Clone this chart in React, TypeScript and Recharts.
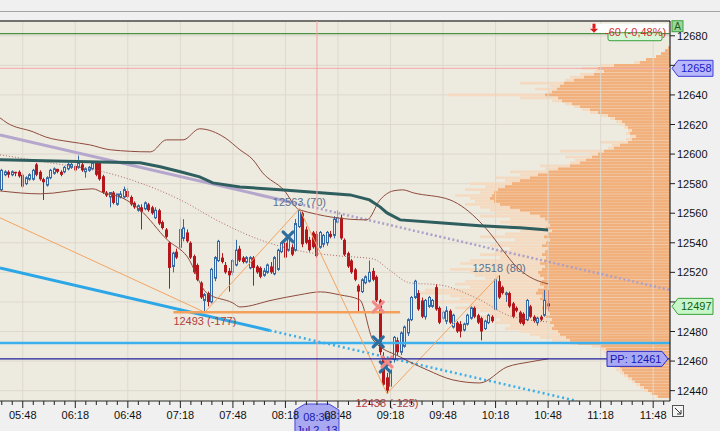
import React from 'react';
import {
  ComposedChart, XAxis, YAxis, CartesianGrid, Bar, Line, Scatter,
  ReferenceLine, ReferenceArea, ReferenceDot,
} from 'recharts';

const FONT = '"Liberation Sans", Arial, sans-serif';

const hm = (s: string) => { const [h, m] = s.split(':'); return Number(h) * 60 + Number(m); };
const fmt = (t: number) => `${String(Math.floor(t / 60)).padStart(2, '0')}:${String(t % 60).padStart(2, '0')}`;

const T_MIN = 335;
const T_MAX = 717.6;
const P_MIN = 12433;
const P_MAX = 12690;

const priceTicks = [12440, 12460, 12480, 12500, 12520, 12540, 12560, 12580, 12600, 12620, 12640, 12660, 12680];
// axis labels hidden under the price tags
const coveredTicks = [12660, 12500];
const majorTimes = ['05:48', '06:18', '06:48', '07:18', '07:48', '08:18', '08:48', '09:18', '09:48', '10:18', '10:48', '11:18', '11:48'];
const timeTicks: number[] = [];
for (let t = 336; t <= 714; t += 6) timeTicks.push(t);

// 2-minute candles, open/high/low/close
const candleOpen = '05:36';
const candleMinutes = 2;
const ohlc: number[][] = [
  [12576, 12590, 12575, 12589], [12586, 12589, 12585, 12588], [12588, 12589, 12584, 12586], [12586, 12589, 12585, 12588],
  [12588, 12588, 12585, 12587], [12588, 12589, 12584, 12585], [12586, 12587, 12577, 12578], [12580, 12585, 12579, 12584],
  [12583, 12587, 12582, 12586], [12583, 12590, 12582, 12589], [12593, 12594, 12585, 12586], [12588, 12589, 12582, 12583],
  [12583, 12584, 12569, 12581], [12579, 12585, 12578, 12584], [12584, 12590, 12583, 12589], [12587, 12591, 12586, 12590],
  [12590, 12590, 12587, 12588], [12588, 12589, 12585, 12586], [12588, 12592, 12587, 12591], [12590, 12594, 12589, 12593],
  [12591, 12594, 12590, 12593], [12592, 12593, 12588, 12589], [12591, 12599, 12590, 12594], [12593, 12594, 12588, 12589],
  [12588, 12591, 12584, 12590], [12589, 12592, 12588, 12591], [12590, 12595, 12589, 12594], [12594, 12595, 12585, 12586],
  [12594, 12595, 12582, 12583], [12585, 12586, 12573, 12574], [12574, 12575, 12571, 12572], [12571, 12574, 12564, 12574],
  [12574, 12575, 12566, 12567], [12566, 12573, 12565, 12573], [12571, 12575, 12570, 12573], [12571, 12578, 12570, 12576],
  [12575, 12577, 12570, 12571], [12571, 12572, 12565, 12566], [12567, 12568, 12563, 12564], [12562, 12566, 12561, 12565],
  [12564, 12566, 12549, 12561], [12563, 12568, 12562, 12567], [12566, 12567, 12561, 12562], [12564, 12565, 12559, 12560],
  [12557, 12564, 12556, 12562], [12562, 12563, 12552, 12553], [12554, 12555, 12549, 12550], [12549, 12550, 12543, 12544],
  [12540, 12541, 12509, 12523], [12524, 12534, 12520, 12533], [12534, 12536, 12529, 12530], [12537, 12557, 12535, 12549],
  [12543, 12556, 12541, 12550], [12547, 12549, 12540, 12541], [12540, 12541, 12529, 12530], [12531, 12532, 12519, 12520],
  [12525, 12526, 12514, 12515], [12513, 12514, 12502, 12503], [12501, 12506, 12493, 12505], [12506, 12507, 12497, 12500],
  [12500, 12523, 12499, 12522], [12516, 12531, 12514, 12530], [12528, 12542, 12527, 12541], [12530, 12533, 12526, 12527],
  [12525, 12527, 12519, 12520], [12521, 12523, 12507, 12518], [12520, 12529, 12518, 12528], [12525, 12542, 12524, 12535],
  [12536, 12538, 12527, 12528], [12530, 12531, 12526, 12527], [12527, 12531, 12526, 12530], [12523, 12531, 12522, 12530],
  [12530, 12531, 12511, 12523], [12524, 12525, 12519, 12520], [12523, 12524, 12516, 12517], [12518, 12523, 12517, 12521],
  [12520, 12526, 12519, 12525], [12524, 12527, 12519, 12520], [12519, 12531, 12518, 12530], [12522, 12536, 12521, 12535],
  [12534, 12541, 12533, 12540], [12540, 12542, 12529, 12530], [12535, 12545, 12534, 12544], [12537, 12539, 12531, 12532],
  [12535, 12556, 12534, 12553], [12551, 12563, 12550, 12562], [12560, 12561, 12537, 12539], [12549, 12551, 12539, 12540],
  [12542, 12544, 12534, 12535], [12547, 12548, 12536, 12537], [12546, 12548, 12530, 12531], [12537, 12548, 12536, 12547],
  [12539, 12546, 12537, 12545], [12540, 12548, 12538, 12547], [12546, 12548, 12543, 12544], [12545, 12558, 12543, 12556],
  [12554, 12562, 12553, 12557], [12557, 12559, 12542, 12543], [12542, 12543, 12531, 12532], [12533, 12534, 12523, 12524],
  [12528, 12529, 12519, 12520], [12522, 12523, 12514, 12515], [12511, 12512, 12493, 12507], [12507, 12516, 12506, 12515],
  [12513, 12518, 12512, 12517], [12514, 12528, 12513, 12520], [12521, 12523, 12514, 12515], [12517, 12518, 12500, 12501],
  [12501, 12502, 12464, 12466], [12463, 12466, 12443, 12444], [12449, 12452, 12438, 12440], [12443, 12455, 12440, 12454],
  [12461, 12477, 12459, 12476], [12474, 12476, 12464, 12466], [12466, 12480, 12464, 12479], [12470, 12484, 12469, 12483],
  [12479, 12489, 12477, 12488], [12488, 12504, 12487, 12503], [12503, 12515, 12502, 12514], [12506, 12508, 12494, 12495],
  [12501, 12503, 12489, 12490], [12490, 12502, 12488, 12501], [12497, 12504, 12496, 12503], [12497, 12502, 12496, 12501],
  [12510, 12512, 12494, 12495], [12496, 12497, 12485, 12486], [12489, 12494, 12488, 12493], [12487, 12497, 12485, 12494],
  [12494, 12495, 12485, 12486], [12483, 12492, 12482, 12491], [12486, 12487, 12479, 12480], [12485, 12487, 12476, 12480],
  [12481, 12486, 12480, 12485], [12485, 12492, 12484, 12491], [12489, 12497, 12488, 12496], [12496, 12497, 12489, 12490],
  [12491, 12492, 12485, 12486], [12489, 12490, 12474, 12480], [12482, 12488, 12481, 12487], [12486, 12492, 12485, 12491],
  [12490, 12491, 12486, 12487], [12495, 12516, 12494, 12515], [12514, 12518, 12502, 12503], [12510, 12511, 12505, 12506],
  [12505, 12507, 12500, 12506], [12506, 12507, 12496, 12497], [12499, 12500, 12489, 12490], [12496, 12497, 12493, 12494],
  [12493, 12494, 12485, 12486], [12492, 12493, 12484, 12485], [12488, 12502, 12487, 12501], [12497, 12498, 12489, 12490],
  [12490, 12491, 12486, 12487], [12486, 12490, 12484, 12489], [12490, 12491, 12487, 12488], [12491, 12508, 12490, 12501],
  [12499, 12508, 12494, 12497],
];

const upperBand: [string, number][] = [
  ['05:35', 12624.5], ['05:39', 12621.1], ['05:54', 12615.0], ['06:01', 12611.6], ['06:15', 12608.3], ['06:26', 12606.3],
  ['06:38', 12602.9], ['07:01', 12601.5], ['07:10', 12609.6], ['07:19.5', 12609.6], ['07:29', 12617.1], ['07:43.5', 12611.0],
  ['07:52', 12602.9], ['07:59.5', 12596.1], ['08:05', 12587.3], ['08:17', 12575.8], ['08:26', 12562.3], ['09:04.5', 12555.5],
  ['09:12', 12569.0], ['09:19.5', 12575.1], ['09:25', 12575.8], ['09:31', 12573.8], ['09:52', 12569.0], ['10:09', 12554.2],
  ['10:16.5', 12544.0], ['10:22', 12535.2], ['10:30', 12523.7], ['10:37.5', 12516.9], ['10:48', 12512.2],
];
const middleBand: [string, number][] = [
  ['05:35', 12599.5], ['06:03.5', 12594.1], ['06:34', 12588.0], ['06:55', 12580.5], ['07:18', 12569.0], ['07:40.5', 12554.2],
  ['08:03.5', 12542.0], ['08:26', 12534.5], ['08:49', 12531.1], ['09:08', 12529.1], ['09:18', 12521.0], ['09:29', 12512.9],
  ['09:46', 12511.5], ['10:09', 12501.4], ['10:26', 12490.6], ['10:48', 12486.5],
];
const lowerBand: [string, number][] = [
  ['05:35', 12575.1], ['05:58', 12573.1], ['06:28', 12576.5], ['06:34', 12573.8], ['06:43.5', 12571.1], ['06:55', 12562.3],
  ['07:10.5', 12542.0], ['07:22', 12530.5], ['07:33', 12506.1], ['07:48', 12499.3], ['07:52', 12496.6], ['08:11', 12501.4],
  ['08:26', 12504.8], ['08:38', 12506.8], ['08:49', 12504.8], ['09:00.5', 12501.4], ['09:08', 12474.3], ['09:23.5', 12462.8],
  ['09:39', 12454.0], ['09:53.5', 12447.3], ['10:09', 12445.2], ['10:24.5', 12456.0], ['10:37.5', 12459.4], ['10:48', 12461.5],
];
const vwapLine: [string, number][] = [
  ['05:35', 12596.1], ['06:32', 12594.7], ['06:55', 12594.1], ['07:06.5', 12591.4], ['07:18', 12588.0], ['07:29', 12584.6],
  ['07:36.5', 12580.5], ['07:52', 12577.8], ['08:15', 12575.8], ['08:38', 12573.8], ['08:55', 12572.4], ['09:06', 12569.0],
  ['09:12', 12564.3], ['09:16', 12560.2], ['09:23.5', 12555.5], ['09:46', 12553.5], ['10:09', 12551.5], ['10:32', 12550.1],
  ['10:48', 12548.7],
];
const upperTrend: [string, number][] = [['05:35', 12613.0], ['08:20.7', 12567.6]];
const upperTrendExt: [string, number][] = [['08:20.7', 12567.6], ['11:57.6', 12508.1]];
const lowerTrend: [string, number][] = [['05:35', 12523.0], ['08:09', 12480.7]];
const lowerTrendExt: [string, number][] = [['08:09', 12480.7], ['11:04.6', 12433]];
const zigzag: [string, number][] = [['05:35', 12556.9], ['07:32', 12493], ['08:26', 12563], ['09:16', 12438], ['10:20', 12518]];
const swingLowLine: [string, number][] = [['07:14', 12493], ['09:23.5', 12493]];

const blueMarks: [string, number][] = [['08:19.5', 12544], ['09:11', 12473], ['09:15', 12456]];
const pinkMarks: [string, number][] = [['09:11', 12496.6], ['09:16', 12459.4]];

// volume profile, 2-point rows from 12672 down to 12436
const profileTop = 12672;
const profileStep = 2;
// a row of this volume would span the whole plot width
const profileFullWidthVol = 670;
const profileVol = [
  2, 5, 9, 14, 24, 30, 56, 72, 66, 76,
  86, 96, 106, 110, 113, 118, 125, 112, 108, 98,
  90, 80, 72, 62, 55, 48, 45, 42, 38, 40,
  34, 38, 42, 50, 56, 66, 72, 78, 84, 90,
  100, 112, 122, 132, 140, 150, 158, 165, 172, 176,
  178, 180, 176, 170, 160, 150, 140, 130, 125, 122,
  120, 124, 118, 122, 126, 120, 124, 128, 122, 125,
  128, 124, 126, 130, 125, 128, 132, 130, 126, 128,
  130, 126, 132, 134, 128, 130, 126, 124, 128, 122,
  120, 124, 118, 120, 116, 118, 112, 110, 104, 100,
  92, 70, 64, 60, 58, 56, 55, 52, 50, 48,
  46, 42, 38, 35, 30, 26, 22, 18, 12,
];
const profileTotal = [
  2, 5, 9, 14, 24, 36, 70, 88, 75, 90,
  100, 105, 150, 120, 135, 122, 222, 150, 118, 105,
  96, 88, 80, 70, 60, 54, 50, 46, 42, 44,
  40, 44, 70, 58, 62, 110, 80, 105, 95, 100,
  130, 125, 160, 150, 175, 165, 200, 185, 205, 190,
  215, 200, 195, 205, 190, 180, 175, 190, 160, 170,
  160, 175, 150, 165, 190, 155, 170, 180, 160, 175,
  190, 170, 200, 210, 180, 220, 200, 195, 185, 205,
  215, 200, 245, 250, 220, 210, 230, 200, 215, 190,
  180, 195, 170, 175, 160, 165, 150, 140, 130, 118,
  100, 78, 70, 66, 64, 62, 60, 58, 56, 54,
  50, 46, 42, 38, 34, 30, 26, 20, 14,
];

const pts = (arr: [string, number][]) => arr.map(([s, p]) => ({ t: hm(s), p }));
const candleRows = ohlc.map(([o, h, l, c], i) => ({ t: hm(candleOpen) + i * candleMinutes, o, h, l, c }));
const rowPrice = (i: number) => profileTop - i * profileStep;
// profile rows hang from the right edge of the time axis
const volToTime = (v: number) => T_MAX - (v / profileFullWidthVol) * (T_MAX - T_MIN);

const Candle = (props: any) => {
  const { x, y, width, height, payload } = props;
  if (x == null || !payload || payload.h == null) return null;
  const { o, h, l, c } = payload;
  const top = Math.min(y, y + height);
  const bot = Math.max(y, y + height);
  const span = h - l || 1;
  const py = (v: number) => top + ((h - v) / span) * (bot - top);
  const n = Math.round(x + width / 2 - 0.5);
  const up = c >= o;
  const color = up ? '#3468A4' : '#B3161B';
  const b1 = py(Math.max(o, c));
  const b2 = py(Math.min(o, c));
  return (
    <g>
      <line x1={n + 0.5} x2={n + 0.5} y1={top} y2={bot} stroke={color} strokeWidth={1} />
      {up ? (
        <rect x={n - 0.5} y={b1} width={2} height={Math.max(1, b2 - b1)} fill="#E9EEF4" stroke={color} strokeWidth={1} />
      ) : (
        <rect x={n - 1} y={b1} width={3} height={Math.max(1.5, b2 - b1)} fill={color} />
      )}
    </g>
  );
};

const xMark = (color: string) => (props: any) => {
  const { cx, cy } = props;
  if (cx == null) return null;
  const s = 5;
  return (
    <g stroke={color} strokeWidth={3.2} strokeLinecap="round">
      <line x1={cx - s} y1={cy - s} x2={cx + s} y2={cy + s} />
      <line x1={cx - s} y1={cy + s} x2={cx + s} y2={cy - s} />
    </g>
  );
};

const PriceTick = (props: any) => {
  const { x, y, payload } = props;
  return (
    <g>
      <line x1={x} x2={x + 5} y1={y} y2={y} stroke="#222" />
      {!coveredTicks.includes(payload.value) && (
        <text x={x + 7} y={y + 4} fontSize={11} fontFamily={FONT} fill="#111">{payload.value}</text>
      )}
    </g>
  );
};

const TimeTick = (props: any) => {
  const { x, y, payload } = props;
  const t = payload.value;
  const major = (t - 18) % 30 === 0;
  return (
    <g>
      <line x1={x} x2={x} y1={y} y2={y + (major ? 7 : 4)} stroke="#222" />
      {major && (
        <text x={x} y={y + 18} textAnchor="middle" fontSize={11} fontFamily={FONT} fill="#111">{fmt(t)}</text>
      )}
    </g>
  );
};

const rightTag = (text: string, fill: string, stroke: string, color: string) => (p: any) => {
  const vb = p.viewBox;
  if (!vb) return null;
  const r = vb.x + vb.width;
  const y = vb.y;
  const poly = `${r + 2},${y} ${r + 8},${y - 8} ${r + 43},${y - 8} ${r + 43},${y + 8} ${r + 8},${y + 8}`;
  return (
    <g>
      <polygon points={poly} fill={fill} stroke={stroke} />
      <text x={r + 11} y={y + 4} fontSize={11} fontFamily={FONT} fill={color}>{text}</text>
    </g>
  );
};

const ppTag = (p: any) => {
  const vb = p.viewBox;
  if (!vb) return null;
  const r = vb.x + vb.width;
  const y = vb.y;
  const poly = `${r - 63},${y - 7.5} ${r - 8},${y - 7.5} ${r - 2},${y} ${r - 8},${y + 7.5} ${r - 63},${y + 7.5}`;
  return (
    <g>
      <polygon points={poly} fill="#A9A9F3" stroke="#2A2AC8" />
      <text x={r - 60} y={y + 4} fontSize={11} fontFamily={FONT} fill="#1414B4">PP: 12461</text>
    </g>
  );
};

const changeTag = (p: any) => {
  const vb = p.viewBox;
  if (!vb) return null;
  const r = vb.x + vb.width;
  const y = vb.y;
  return (
    <g>
      <rect x={r - 79} y={y - 10} width={77} height={9} fill="#FFFFFF" />
      <rect x={r - 62} y={y - 1} width={54} height={8} rx={2} fill="#D8F6D8" stroke="#3BA03B" />
      <rect x={r - 77.5} y={y - 10} width={3} height={5} fill="#E01818" />
      <polygon points={`${r - 80},${y - 5} ${r - 72},${y - 5} ${r - 76},${y - 1}`} fill="#E01818" />
      <text x={r - 65} y={y + 2} fontSize={11} fontFamily={FONT} fill="#D42A2A">-60 (-0,48%)</text>
      <rect x={r + 2} y={y - 13} width={11} height={11} fill="#9AD89A" stroke="#40A040" />
      <text x={r + 7.5} y={y - 4} textAnchor="middle" fontSize={10} fontFamily={FONT} fill="#1E5E1E">A</text>
    </g>
  );
};

const timeTag = (p: any) => {
  const vb = p.viewBox;
  if (!vb) return null;
  const cx = vb.x;
  const b = vb.y + vb.height;
  const poly = `${cx - 12},${b + 3} ${cx + 12},${b + 3} ${cx + 22},${b + 9} ${cx + 22},${b + 40} ${cx - 22},${b + 40} ${cx - 22},${b + 9}`;
  return (
    <g>
      <polygon points={poly} fill="#A9A9F1" stroke="#4848D8" />
      <text x={cx} y={b + 20} textAnchor="middle" fontSize={11} fontFamily={FONT} fill="#1818B0">08:36</text>
      <text x={cx} y={b + 33} textAnchor="middle" fontSize={11} fontFamily={FONT} fill="#1818B0">Jul 2, 13</text>
    </g>
  );
};

const note = (text: string, color: string, dy: number) => (p: any) => {
  const vb = p.viewBox;
  if (!vb) return null;
  return (
    <text x={vb.x + vb.width / 2} y={vb.y + vb.height / 2 + dy} textAnchor="middle" fontSize={11} fontFamily={FONT} fill={color}>
      {text}
    </text>
  );
};

export default function App() {
  return (
    <div style={{ position: 'absolute', left: 0, top: 0, width: 720, height: 431, background: '#F0F0F0', overflow: 'hidden' }}>
      <div style={{ position: 'absolute', left: 0, top: 11, width: 720, height: 1, background: '#A4A4A4' }} />
      <ComposedChart width={720} height={431} data={candleRows} margin={{ top: 21, right: 0, bottom: 0, left: 0 }}>
        <CartesianGrid vertical={false} stroke="#DDD9CD" fill="#EDEAE0" />
        <XAxis
          dataKey="t" type="number" domain={[T_MIN, T_MAX]} allowDataOverflow ticks={timeTicks} interval={0}
          height={30} tickSize={0} tickMargin={0} tickLine={false} axisLine={{ stroke: '#333' }} tick={<TimeTick />}
        />
        <YAxis
          orientation="right" type="number" width={50} domain={[P_MIN, P_MAX]} allowDataOverflow ticks={priceTicks}
          interval={0} tickSize={0} tickMargin={0} tickLine={false} axisLine={{ stroke: '#000' }} tick={<PriceTick />}
        />

        {majorTimes.map((s) => (
          <ReferenceLine key={`g${s}`} x={hm(s)} stroke="#DDD9CD" />
        ))}

        {profileTotal.map((v, i) => (
          <ReferenceArea key={`pt${i}`} x1={volToTime(v)} x2={T_MAX} y1={rowPrice(i) - 0.9} y2={rowPrice(i) + 0.9}
            fill="#F4DAC0" fillOpacity={1} stroke="none" ifOverflow="visible" />
        ))}
        {profileVol.map((v, i) => (
          <ReferenceArea key={`pv${i}`} x1={volToTime(v)} x2={T_MAX} y1={rowPrice(i) - 0.9} y2={rowPrice(i) + 0.9}
            fill="#F1B07C" fillOpacity={1} stroke="none" ifOverflow="visible" />
        ))}

        <ReferenceLine y={12681.4} stroke="#1E7A1E" label={changeTag} zIndex={700} />
        <ReferenceLine y={12658} stroke="#F2A8A8" label={rightTag('12658', '#B8B8FA', '#3C3CD8', '#1A1AC8')} zIndex={700} />
        <ReferenceLine x={hm('08:36')} stroke="#F4A4A4" label={timeTag} zIndex={700} />
        <ReferenceLine y={12472.3} stroke="#3CB0EC" strokeWidth={2.5} />
        <ReferenceLine y={12461.5} stroke="#1E1E9A" strokeWidth={1.2} label={ppTag} zIndex={700} />

        <Bar dataKey={(d: any) => [d.l, d.h]} shape={<Candle />} isAnimationActive={false} />

        <Line data={pts(upperTrend)} dataKey="p" stroke="#B4A6CC" strokeWidth={3} dot={false} isAnimationActive={false} />
        <Line data={pts(upperTrendExt)} dataKey="p" stroke="#ACA0C8" strokeWidth={2.5} strokeDasharray="2 2.5" dot={false} isAnimationActive={false} />
        <Line data={pts(lowerTrend)} dataKey="p" stroke="#2BA6E6" strokeWidth={3} dot={false} isAnimationActive={false} />
        <Line data={pts(lowerTrendExt)} dataKey="p" stroke="#3AAEE8" strokeWidth={2.5} strokeDasharray="2 3" dot={false} isAnimationActive={false} />
        <Line data={pts(upperBand)} dataKey="p" type="monotone" stroke="#8E4B3C" strokeWidth={1} dot={false} isAnimationActive={false} />
        <Line data={pts(middleBand)} dataKey="p" type="monotone" stroke="#B06A5E" strokeWidth={1} strokeDasharray="1 2" dot={false} isAnimationActive={false} />
        <Line data={pts(lowerBand)} dataKey="p" type="monotone" stroke="#8E4B3C" strokeWidth={1} dot={false} isAnimationActive={false} />
        <Line data={pts(vwapLine)} dataKey="p" stroke="#2F5E5F" strokeWidth={3} dot={false} isAnimationActive={false} />
        <Line data={pts(zigzag)} dataKey="p" stroke="#F4A460" strokeWidth={1} dot={false} isAnimationActive={false} />
        <Line data={pts(swingLowLine)} dataKey="p" stroke="#F5A05A" strokeWidth={2.5} dot={false} isAnimationActive={false} />

        <Scatter data={pts(blueMarks)} dataKey="p" shape={xMark('#2D6E9E')} isAnimationActive={false} />
        <Scatter data={pts(pinkMarks)} dataKey="p" shape={xMark('#F28A8A')} isAnimationActive={false} />

        <ReferenceDot x={hm('08:26')} y={12563} r={0} stroke="none" label={note('12563 (70)', '#5C6F8C', -3)} />
        <ReferenceDot x={hm('07:32')} y={12493} r={0} stroke="none" label={note('12493 (-177)', '#B04040', 13)} />
        <ReferenceDot x={hm('09:16')} y={12438} r={0} stroke="none" ifOverflow="hidden" label={note('12438 (-125)', '#B04040', 13)} />
        <ReferenceDot x={hm('10:20')} y={12518} r={0} stroke="none" label={note('12518 (80)', '#5C6F8C', -3)} />

        <ReferenceLine y={12497} stroke="none" label={rightTag('12497', '#C8F6C8', '#38A038', '#0E5E0E')} zIndex={700} />
        <ReferenceLine y={P_MAX} stroke="#000" />
      </ComposedChart>
      <svg style={{ position: 'absolute', left: 672, top: 405 }} width={13} height={13}>
        <rect x={0.5} y={0.5} width={11} height={11} fill="#F4F4F4" stroke="#555" />
        <line x1={3} y1={3} x2={9} y2={9} stroke="#333" />
        <polyline points="5,9 9,9 9,5" fill="none" stroke="#333" />
      </svg>
    </div>
  );
}
